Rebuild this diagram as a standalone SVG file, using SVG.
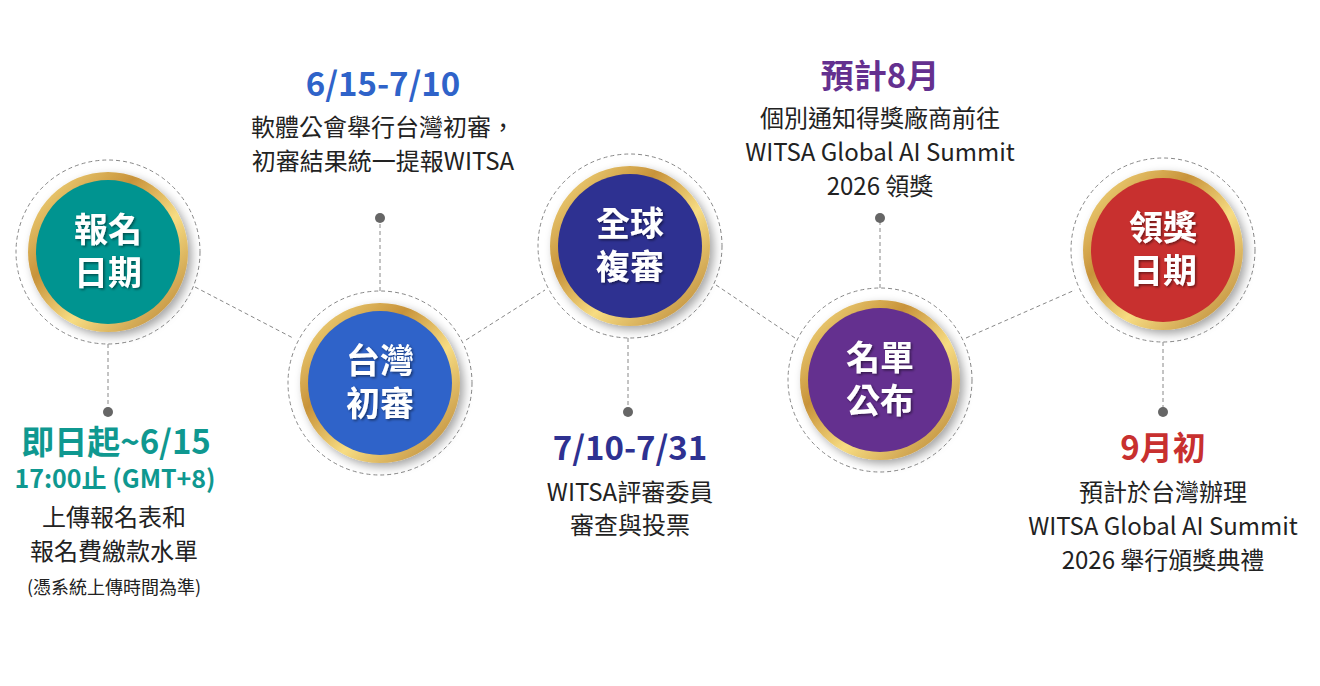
<svg xmlns="http://www.w3.org/2000/svg" width="1320" height="686" viewBox="0 0 1320 686">
<style>
.dash{fill:none;stroke:#888;stroke-width:1;stroke-dasharray:4 3}
.ring{fill:url(#gold)}
.lbl{font-family:"Noto Sans CJK TC","Noto Sans",sans-serif;font-weight:700;font-size:34px;fill:#fff;text-anchor:middle}
.t{font-family:"Noto Sans CJK TC","Noto Sans",sans-serif;font-size:24px;fill:#222;text-anchor:middle}
.h{font-family:"Noto Sans CJK TC","Noto Sans",sans-serif;font-weight:700;font-size:33px;text-anchor:middle}
.h2{font-family:"Noto Sans CJK TC","Noto Sans",sans-serif;font-weight:700;font-size:25px;text-anchor:middle}
.note{font-family:"Noto Sans CJK TC","Noto Sans",sans-serif;font-size:18px;fill:#222;text-anchor:middle}
.dot{fill:#666}
</style>
<defs>
<linearGradient id="gold" x1="0" y1="0" x2="1" y2="1">
<stop offset="0" stop-color="#fbe48a"/><stop offset="0.35" stop-color="#c8933a"/><stop offset="0.6" stop-color="#f7dc82"/><stop offset="1" stop-color="#b27b2c"/>
</linearGradient>
<filter id="sh" x="-30%" y="-30%" width="160%" height="160%"><feDropShadow dx="4" dy="4" stdDeviation="5" flood-opacity="0.35"/></filter>
<filter id="ts"><feDropShadow dx="1.5" dy="1.5" stdDeviation="1" flood-opacity="0.45"/></filter>
</defs>
<g id="connectors">
<line class="dash" x1="195" y1="287" x2="293" y2="338"/>
<line class="dash" x1="466" y1="340" x2="545" y2="290"/>
<line class="dash" x1="716" y1="285" x2="795" y2="338"/>
<line class="dash" x1="966" y1="338" x2="1075" y2="290"/>
<line class="dash" x1="108" y1="344" x2="108" y2="410"/>
<line class="dash" x1="380" y1="291" x2="380" y2="220"/>
<line class="dash" x1="628" y1="338" x2="628" y2="410"/>
<line class="dash" x1="880" y1="288" x2="880" y2="220"/>
<line class="dash" x1="1163" y1="342" x2="1163" y2="410"/>
<circle class="dot" cx="108" cy="412" r="5"/>
<circle class="dot" cx="380" cy="218" r="5"/>
<circle class="dot" cx="628" cy="412" r="5"/>
<circle class="dot" cx="880" cy="218" r="5"/>
<circle class="dot" cx="1163" cy="412" r="5"/>
</g>
<g id="n1">
<circle class="dash" cx="108" cy="252" r="92"/>
<circle class="ring" cx="108" cy="252" r="80" filter="url(#sh)"/>
<circle cx="108" cy="252" r="72" fill="#009490"/>
<text class="lbl" x="108" y="242" filter="url(#ts)">報名</text>
<text class="lbl" x="108" y="285" filter="url(#ts)">日期</text>
<text class="h" x="116" y="454" fill="#0f9890">即日起~6/15</text>
<text class="h2" x="115" y="488" fill="#0f9890">17:00止 (GMT+8)</text>
<text class="t" x="114" y="526">上傳報名表和</text>
<text class="t" x="114" y="560">報名費繳款水單</text>
<text class="note" x="114" y="594">(憑系統上傳時間為準)</text>
</g>
<g id="n2">
<circle class="dash" cx="380" cy="383" r="92"/>
<circle class="ring" cx="380" cy="383" r="80" filter="url(#sh)"/>
<circle cx="380" cy="383" r="72" fill="#2f63c9"/>
<text class="lbl" x="380" y="373" filter="url(#ts)">台灣</text>
<text class="lbl" x="380" y="416" filter="url(#ts)">初審</text>
<text class="h" x="383" y="96" fill="#2f63c9">6/15-7/10</text>
<text class="t" x="383" y="136">軟體公會舉行台灣初審，</text>
<text class="t" x="383" y="170">初審結果統一提報WITSA</text>
</g>
<g id="n3">
<circle class="dash" cx="630" cy="246" r="92"/>
<circle class="ring" cx="630" cy="246" r="80" filter="url(#sh)"/>
<circle cx="630" cy="246" r="72" fill="#2e3191"/>
<text class="lbl" x="630" y="236" filter="url(#ts)">全球</text>
<text class="lbl" x="630" y="279" filter="url(#ts)">複審</text>
<text class="h" x="630" y="460" fill="#2e3191">7/10-7/31</text>
<text class="t" x="630" y="501">WITSA評審委員</text>
<text class="t" x="630" y="534">審查與投票</text>
</g>
<g id="n4">
<circle class="dash" cx="880" cy="380" r="92"/>
<circle class="ring" cx="880" cy="380" r="80" filter="url(#sh)"/>
<circle cx="880" cy="380" r="72" fill="#64308f"/>
<text class="lbl" x="880" y="370" filter="url(#ts)">名單</text>
<text class="lbl" x="880" y="413" filter="url(#ts)">公布</text>
<text class="h" x="880" y="88" fill="#64308f">預計8月</text>
<text class="t" x="880" y="127">個別通知得獎廠商前往</text>
<text class="t" x="880" y="161">WITSA Global AI Summit</text>
<text class="t" x="880" y="195">2026 領獎</text>
</g>
<g id="n5">
<circle class="dash" cx="1163" cy="250" r="92"/>
<circle class="ring" cx="1163" cy="250" r="80" filter="url(#sh)"/>
<circle cx="1163" cy="250" r="72" fill="#c8302f"/>
<text class="lbl" x="1163" y="240" filter="url(#ts)">領獎</text>
<text class="lbl" x="1163" y="283" filter="url(#ts)">日期</text>
<text class="h" x="1163" y="460" fill="#c8302f">9月初</text>
<text class="t" x="1163" y="501">預計於台灣辦理</text>
<text class="t" x="1163" y="535">WITSA Global AI Summit</text>
<text class="t" x="1163" y="569">2026 舉行頒獎典禮</text>
</g>
</svg>
